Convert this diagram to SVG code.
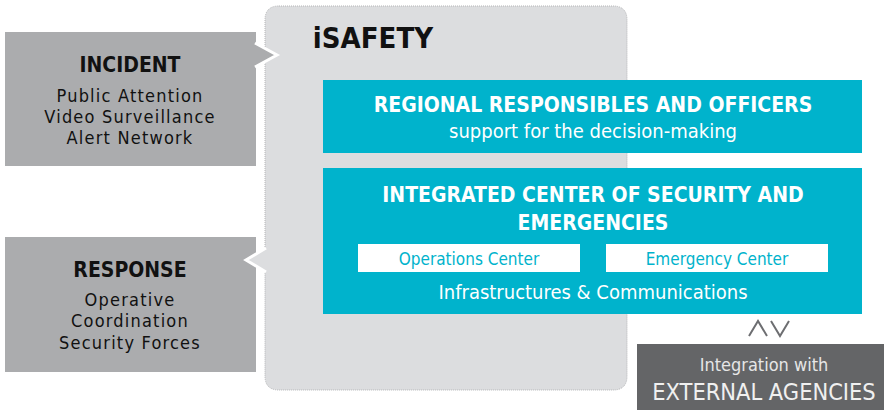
<svg xmlns="http://www.w3.org/2000/svg" width="884" height="410" viewBox="0 0 884 410">
<style>
text{font-family:"DejaVu Sans Condensed","DejaVu Sans",sans-serif;text-anchor:middle}
.side{fill:#abacae}
.st{fill:#111;font-size:18px;letter-spacing:1.2px}
.sh{fill:#111;font-size:21px;font-weight:bold}
.tealbox{fill:#00b3cc}
.wh{fill:#fff}
.th{fill:#fff;font-size:21px;font-weight:bold}
.tt{fill:#fff;font-size:20px}
.ct{fill:#00b3cc;font-size:17px}
</style>
<rect width="884" height="410" fill="#fff"/>
<g id="isafety">
<path d="M279,6 H613 Q627,6 627,20 V376 Q627,390 613,390 H279 Q265,390 265,376 V272 L247,260 L265,248 V20 Q265,6 279,6 Z" fill="#dcdddf" stroke="#b4b5b7" stroke-width="1" stroke-dasharray="1,1"/>
<text x="373" y="48" style="font-size:29px;font-weight:bold;fill:#111">iSAFETY</text>
</g>
<g id="incident">
<rect class="side" x="5" y="32" width="251" height="134"/>
<path d="M255,43 L277,55 L255,67" class="side" stroke="#fff" stroke-width="3" stroke-linejoin="miter"/>
<text class="sh" x="130" y="72">INCIDENT</text>
<text class="st" x="130" y="102">Public Attention</text>
<text class="st" x="130" y="123">Video Surveillance</text>
<text class="st" x="130" y="144">Alert Network</text>
</g>
<g id="response">
<rect class="side" x="5" y="237" width="251" height="135"/>
<path d="M266,248 L246,260 L266,272" fill="#dcdddf" stroke="#fff" stroke-width="3"/>
<text class="sh" x="130" y="277">RESPONSE</text>
<text class="st" x="130" y="306">Operative</text>
<text class="st" x="130" y="327">Coordination</text>
<text class="st" x="130" y="349">Security Forces</text>
</g>
<g id="regional">
<rect class="tealbox" x="323" y="80" width="539" height="73"/>
<text class="th" x="593" y="112">REGIONAL RESPONSIBLES AND OFFICERS</text>
<text class="tt" x="593" y="138">support for the decision-making</text>
</g>
<g id="integrated">
<rect class="tealbox" x="323" y="168" width="539" height="146"/>
<text class="th" x="593" y="202">INTEGRATED CENTER OF SECURITY AND</text>
<text class="th" x="593" y="230">EMERGENCIES</text>
<rect class="wh" x="358" y="244" width="222" height="28"/>
<text class="ct" x="469" y="265">Operations Center</text>
<rect class="wh" x="606" y="244" width="222" height="28"/>
<text class="ct" x="717" y="265">Emergency Center</text>
<text class="tt" x="593" y="299">Infrastructures &amp; Communications</text>
</g>
<g id="connectors" fill="none" stroke="#6d6e71" stroke-width="2">
<polyline points="749,336 758,321 767,336"/>
<polyline points="771,321 780,336 789,321"/>
</g>
<g id="external">
<rect x="637" y="344" width="247" height="66" fill="#646567"/>
<text x="764" y="371" style="font-size:18px;fill:#e6e6e6">Integration with</text>
<text x="764" y="400" style="font-size:23.4px;fill:#f0f0f0">EXTERNAL AGENCIES</text>
</g>
</svg>
